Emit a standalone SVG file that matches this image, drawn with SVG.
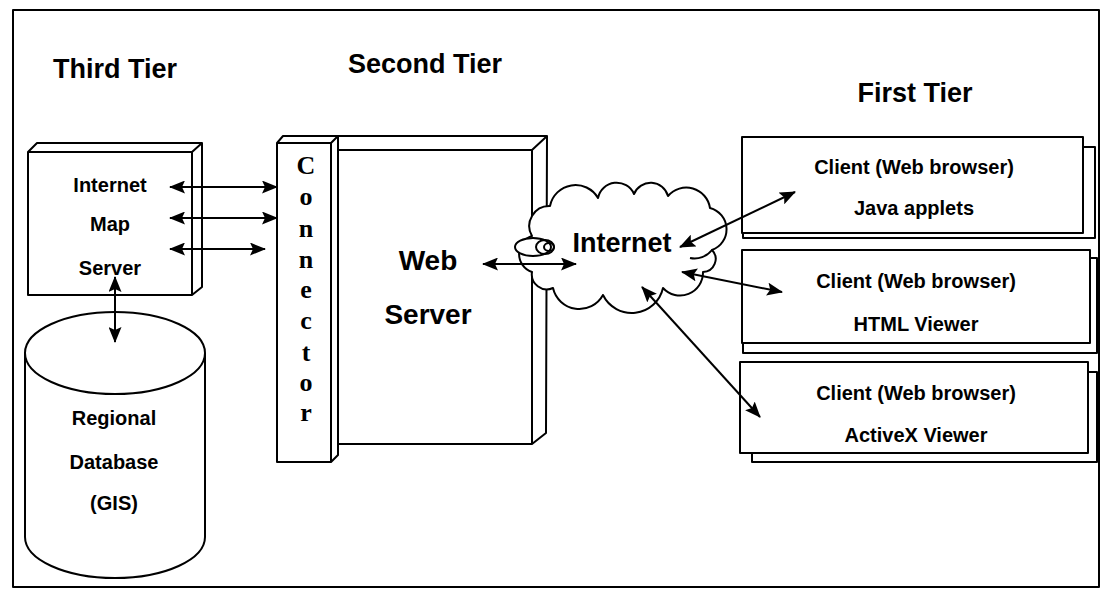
<svg xmlns="http://www.w3.org/2000/svg" width="1104" height="596" viewBox="0 0 1104 596">
<style>
.ln{fill:none;stroke:#000;stroke-width:2;stroke-linejoin:round}
.box{fill:#fff;stroke:#000;stroke-width:2;stroke-linejoin:round}
.t{font-family:"Liberation Sans",Arial,sans-serif;font-weight:bold;fill:#000;text-anchor:middle}
.h{font-size:27px}
.s{font-size:20px}
.b{font-size:28px}
.c{font-family:"Liberation Serif","Times New Roman",serif;font-weight:bold;font-size:26px;fill:#000;text-anchor:middle}
.ar{fill:none;stroke:#000;stroke-width:2;marker-start:url(#ah);marker-end:url(#ah)}
</style>
<defs>
<marker id="ah" viewBox="0 0 16 13" refX="15" refY="6.5" markerWidth="16" markerHeight="13" markerUnits="userSpaceOnUse" orient="auto-start-reverse">
<path d="M0,0 L16,6.5 L0,13 L3,6.5 Z" fill="#000"/>
</marker>
</defs>
<rect x="0" y="0" width="1104" height="596" fill="#fff"/>
<rect x="13" y="10" width="1086" height="577" class="ln"/>

<g id="titles">
<text class="t h" x="53" y="78" style="text-anchor:start">Third Tier</text>
<text class="t h" x="425" y="73">Second Tier</text>
<text class="t h" x="915" y="102">First Tier</text>
</g>

<g id="map-server">
<path class="box" d="M28,152 L37,143 L202,143 L202,287 L192,295 L28,295 Z"/>
<path class="ln" d="M28,152 L192,152 L192,295 M192,152 L202,143"/>
<text class="t s" x="110" y="192">Internet</text>
<text class="t s" x="110" y="231">Map</text>
<text class="t s" x="110" y="275">Server</text>
</g>

<g id="database">
<path class="box" d="M25,353 L25,537 A90,41 0 0 0 205,537 L205,353 A90,41 0 0 0 25,353 Z"/>
<path class="ln" d="M25,353 A90,41 0 0 0 205,353"/>
<text class="t s" x="114" y="425">Regional</text>
<text class="t s" x="114" y="469">Database</text>
<text class="t s" x="114" y="510">(GIS)</text>
</g>

<g id="web-server">
<path class="box" d="M338,136 L547,136 L546,433 L532,444 L338,444 Z"/>
<path class="ln" d="M338,150 L532,150 L532,444 M532,150 L546,137"/>
<text class="t b" x="428" y="270">Web</text>
<text class="t b" x="428" y="324">Server</text>
</g>

<g id="connector">
<path class="box" d="M277,143 L283,136 L338,136 L338,455 L331,462 L277,462 Z"/>
<path class="ln" d="M277,143 L331,143 L331,462 M331,143 L338,136"/>
<text class="c" x="306" y="174">C</text>
<text class="c" x="306" y="205">o</text>
<text class="c" x="306" y="237">n</text>
<text class="c" x="306" y="268">n</text>
<text class="c" x="306" y="298">e</text>
<text class="c" x="306" y="329">c</text>
<text class="c" x="306" y="361">t</text>
<text class="c" x="306" y="391">o</text>
<text class="c" x="306" y="421">r</text>
</g>

<g id="internet">
<path class="box" d="M532,236 A20,20 0 0 1 550,206 A26,26 0 0 1 598,198 A19,19 0 0 1 634,194 A18,18 0 0 1 668,196 A24,24 0 0 1 710,208 A22,22 0 0 1 712,250 A13,13 0 0 1 703,272 A23,23 0 0 1 663,288 A32,32 0 0 1 603,295 A27,27 0 0 1 553,288 A15,15 0 0 1 532,272 A19,19 0 0 1 532,236 Z"/>
<path class="ln" d="M712,250 A22,22 0 0 1 690,258"/>
<ellipse class="box" cx="533" cy="247" rx="18" ry="9"/>
<ellipse class="ln" cx="545" cy="247" rx="9" ry="7"/>
<ellipse class="ln" cx="549" cy="247" rx="5" ry="4"/>
<text class="t h" x="622" y="252">Internet</text>
</g>

<g id="client-1">
<rect class="box" x="743" y="147" width="352" height="91"/>
<rect class="box" x="742" y="137" width="341" height="96"/>
<text class="t s" x="914" y="174">Client (Web browser)</text>
<text class="t s" x="914" y="215">Java applets</text>
</g>

<g id="client-2">
<rect class="box" x="743" y="258" width="354" height="95"/>
<rect class="box" x="742" y="250" width="348" height="93"/>
<text class="t s" x="916" y="288">Client (Web browser)</text>
<text class="t s" x="916" y="331">HTML Viewer</text>
</g>

<g id="client-3">
<rect class="box" x="752" y="372" width="345" height="90"/>
<rect class="box" x="740" y="362" width="348" height="91"/>
<text class="t s" x="916" y="400">Client (Web browser)</text>
<text class="t s" x="916" y="442">ActiveX Viewer</text>
</g>

<g id="connectors">
<line class="ar" x1="170" y1="187" x2="277" y2="187"/>
<line class="ar" x1="170" y1="218" x2="277" y2="218"/>
<line class="ar" x1="170" y1="249" x2="265" y2="249"/>
<line class="ar" x1="115" y1="277" x2="115" y2="342"/>
<line class="ar" x1="483" y1="264" x2="576" y2="264"/>
<line class="ar" x1="680" y1="247" x2="795" y2="192"/>
<line class="ar" x1="682" y1="272" x2="782" y2="292"/>
<line class="ar" x1="642" y1="287" x2="760" y2="417"/>
</g>
</svg>
